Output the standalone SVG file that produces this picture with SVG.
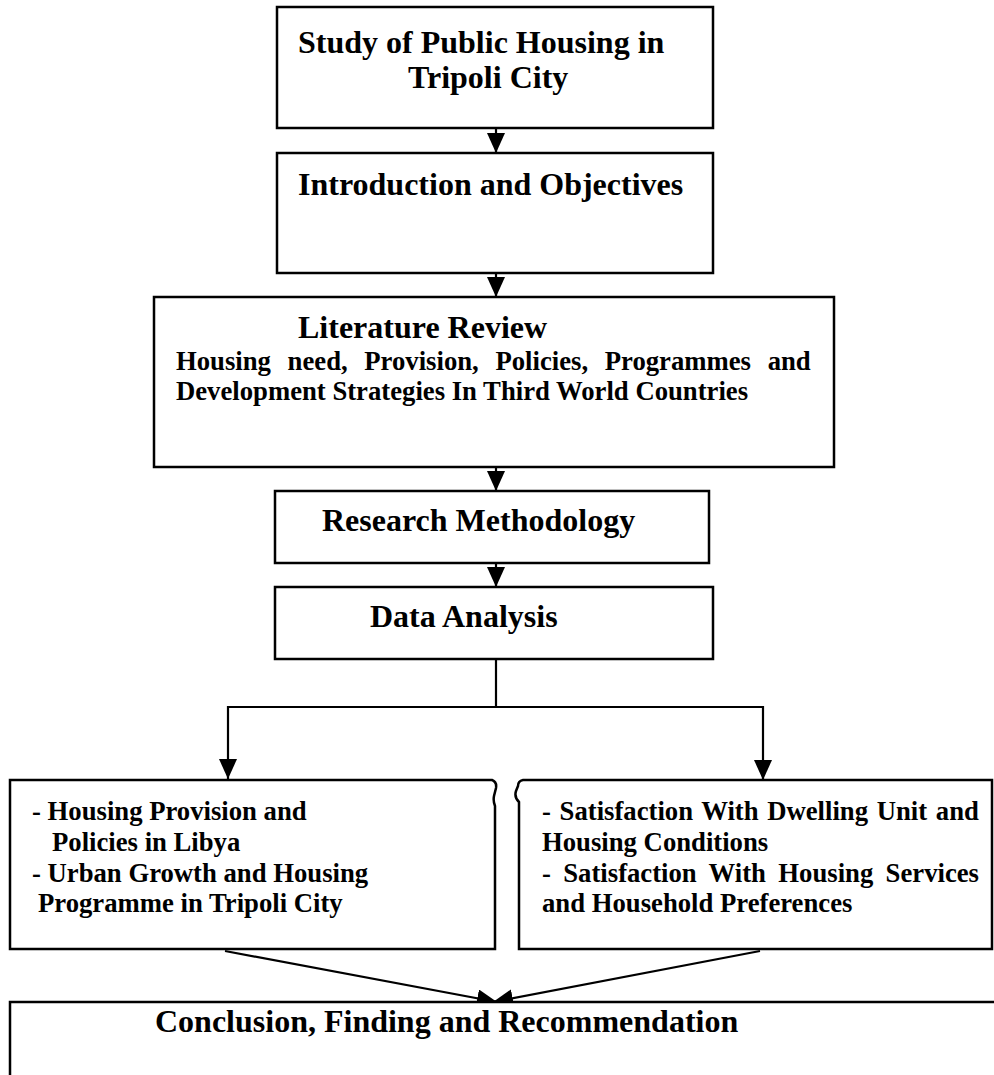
<svg xmlns="http://www.w3.org/2000/svg" width="994" height="1075" viewBox="0 0 994 1075">
  <style>
    .box { fill: #ffffff; stroke: #000000; stroke-width: 2.5; }
    .edge { fill: none; stroke: #000000; stroke-width: 2.5; }
    .conn { fill: none; stroke: #000000; stroke-width: 2.2; }
    .title { font-family: "Liberation Serif", "Times New Roman", serif; font-weight: bold; font-size: 32px; fill: #000000; }
    .body { font-family: "Liberation Serif", "Times New Roman", serif; font-weight: bold; font-size: 26.7px; fill: #000000; }
  </style>
  <defs>
    <marker id="arrow" markerUnits="userSpaceOnUse" viewBox="0 0 20 18" refX="20" refY="9" markerWidth="20" markerHeight="18" orient="auto">
      <path d="M0,0 L20,9 L0,18 z" fill="#000000"/>
    </marker>
  </defs>
  <rect width="994" height="1075" fill="#ffffff"/>

  <!-- connectors -->
  <g id="connectors">
    <line class="conn" x1="496" y1="128" x2="496" y2="153" marker-end="url(#arrow)"/>
    <line class="conn" x1="496" y1="273" x2="496" y2="297" marker-end="url(#arrow)"/>
    <line class="conn" x1="496" y1="467" x2="496" y2="491" marker-end="url(#arrow)"/>
    <line class="conn" x1="496" y1="563" x2="496" y2="587" marker-end="url(#arrow)"/>
    <polyline class="conn" points="496,659 496,707 228,707 228,779" marker-end="url(#arrow)"/>
    <polyline class="conn" points="496,707 763,707 763,780" marker-end="url(#arrow)"/>
    <line class="conn" x1="225" y1="951" x2="497" y2="1002" marker-end="url(#arrow)"/>
    <line class="conn" x1="760" y1="951" x2="493" y2="1002" marker-end="url(#arrow)"/>
  </g>

  <!-- Study of Public Housing -->
  <g id="node-study">
    <rect class="box" x="277" y="7" width="436" height="121"/>
    <text class="title" x="298" y="53">Study of Public Housing in</text>
    <text class="title" x="408" y="88">Tripoli City</text>
  </g>

  <!-- Introduction and Objectives -->
  <g id="node-intro">
    <rect class="box" x="277" y="153" width="436" height="120"/>
    <text class="title" x="298" y="195">Introduction and Objectives</text>
  </g>

  <!-- Literature Review -->
  <g id="node-literature">
    <rect class="box" x="154" y="297" width="680" height="170"/>
    <text class="title" x="298" y="338">Literature Review</text>
    <text class="body" x="176" y="370" word-spacing="10">Housing need, Provision, Policies, Programmes and</text>
    <text class="body" x="176" y="400">Development Strategies In Third World Countries</text>
  </g>

  <!-- Research Methodology -->
  <g id="node-method">
    <rect class="box" x="275" y="491" width="434" height="72"/>
    <text class="title" x="322" y="531">Research Methodology</text>
  </g>

  <!-- Data Analysis -->
  <g id="node-data">
    <rect class="box" x="275" y="587" width="438" height="72"/>
    <text class="title" x="370" y="627">Data Analysis</text>
  </g>

  <!-- Housing provision / urban growth -->
  <g id="node-provision">
    <path class="edge" d="M10,780 L492,780 Q497,782 496,788 L494,796 Q493,801 495,806 L495,949 L10,949 Z" fill="#ffffff"/>
    <text class="body" x="32" y="820">- Housing Provision and</text>
    <text class="body" x="52" y="851">Policies in Libya</text>
    <text class="body" x="32" y="882">- Urban Growth and Housing</text>
    <text class="body" x="38" y="912">Programme in Tripoli City</text>
  </g>

  <!-- Satisfaction -->
  <g id="node-satisfaction">
    <path class="edge" d="M992,780 L523,780 Q518,781 518,786 L516,791 Q514,797 519,802 L519,949 L992,949 Z" fill="#ffffff"/>
    <text class="body" x="542" y="820" word-spacing="2">- Satisfaction With Dwelling Unit and</text>
    <text class="body" x="542" y="851">Housing Conditions</text>
    <text class="body" x="542" y="882" word-spacing="5.7">- Satisfaction With Housing Services</text>
    <text class="body" x="542" y="912">and Household Preferences</text>
  </g>

  <!-- Conclusion -->
  <g id="node-conclusion">
    <rect class="box" x="10" y="1002" width="1000" height="100"/>
    <text class="title" x="155" y="1032">Conclusion, Finding and Recommendation</text>
  </g>
</svg>
